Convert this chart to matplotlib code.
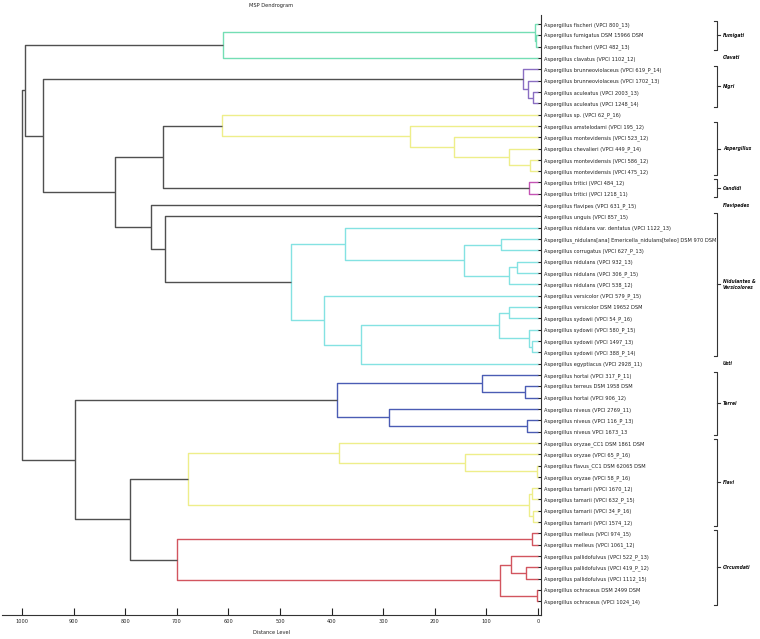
import matplotlib
matplotlib.use('Agg')
import matplotlib.pyplot as plt
import matplotlib.transforms as mtransforms
from matplotlib import font_manager as fm

## leaf labels, top to bottom
leaf_labels = [
    'Aspergillus fischeri (VPCI 800_13)',
    'Aspergillus fumigatus DSM 15966 DSM',
    'Aspergillus fischeri (VPCI 482_13)',
    'Aspergillus clavatus (VPCI 1102_12)',
    'Aspergillus brunneoviolaceus (VPCI 619_P_14)',
    'Aspergillus brunneoviolaceus (VPCI 1702_13)',
    'Aspergillus aculeatus (VPCI 2003_13)',
    'Aspergillus aculeatus (VPCI 1248_14)',
    'Aspergillus sp. (VPCI 62_P_16)',
    'Aspergillus amstelodami (VPCI 195_12)',
    'Aspergillus montevidensis (VPCI 523_12)',
    'Aspergillus chevalieri (VPCI 449_P_14)',
    'Aspergillus montevidensis (VPCI 586_12)',
    'Aspergillus montevidensis (VPCI 475_12)',
    'Aspergillus tritici (VPCI 484_12)',
    'Aspergillus tritici (VPCI 1218_11)',
    'Aspergillus flavipes (VPCI 631_P_15)',
    'Aspergillus unguis (VPCI 857_15)',
    'Aspergillus nidulans var. dentatus (VPCI 1122_13)',
    'Aspergillus_nidulans[ana] Emericella_nidulans[teleo] DSM 970 DSM',
    'Aspergillus corrugatus (VPCI 627_P_13)',
    'Aspergillus nidulans (VPCI 932_13)',
    'Aspergillus nidulans (VPCI 306_P_15)',
    'Aspergillus nidulans (VPCI 538_12)',
    'Aspergillus versicolor (VPCI 579_P_15)',
    'Aspergillus versicolor DSM 19652 DSM',
    'Aspergillus sydowii (VPCI 54_P_16)',
    'Aspergillus sydowii (VPCI 580_P_15)',
    'Aspergillus sydowii (VPCI 1497_13)',
    'Aspergillus sydowii (VPCI 388_P_14)',
    'Aspergillus egyptiacus (VPCI 2928_11)',
    'Aspergillus hortai (VPCI 317_P_11)',
    'Aspergillus terreus DSM 1958 DSM',
    'Aspergillus hortai (VPCI 906_12)',
    'Aspergillus niveus (VPCI 2769_11)',
    'Aspergillus niveus (VPCI 116_P_13)',
    'Aspergillus niveus VPCI 1673_13',
    'Aspergillus oryzae_CC1 DSM 1861 DSM',
    'Aspergillus oryzae (VPCI 65_P_16)',
    'Aspergillus flavus_CC1 DSM 62065 DSM',
    'Aspergillus oryzae (VPCI 58_P_16)',
    'Aspergillus tamarii (VPCI 1670_12)',
    'Aspergillus tamarii (VPCI 632_P_15)',
    'Aspergillus tamarii (VPCI 34_P_16)',
    'Aspergillus tamarii (VPCI 1574_12)',
    'Aspergillus melleus (VPCI 974_15)',
    'Aspergillus melleus (VPCI 1061_12)',
    'Aspergillus pallidofulvus (VPCI 522_P_13)',
    'Aspergillus pallidofulvus (VPCI 419_P_12)',
    'Aspergillus pallidofulvus (VPCI 1112_15)',
    'Aspergillus ochraceus DSM 2499 DSM',
    'Aspergillus ochraceus (VPCI 1024_14)',
]

## linkage: (child a, child b, distance level, colour key)
## leaves are 0..51, merge k gets id 52+k
merges = [
    (1, 2, 3, 'fum'), (0, 52, 6, 'fum'), (53, 3, 610, 'fum'),
    (6, 7, 10, 'nig'), (5, 55, 20, 'nig'), (4, 56, 30, 'nig'),
    (12, 13, 15, 'asp'), (11, 58, 56, 'asp'), (10, 59, 163, 'asp'),
    (9, 60, 249, 'asp'), (8, 61, 612, 'asp'),
    (14, 15, 17, 'can'),
    (62, 63, 726, 'top'),
    (19, 20, 71, 'nid'), (21, 22, 40, 'nid'), (66, 23, 57, 'nid'),
    (65, 67, 143, 'nid'), (18, 68, 375, 'nid'),
    (28, 29, 12, 'nid'), (27, 70, 18, 'nid'), (25, 26, 56, 'nid'),
    (72, 71, 76, 'nid'), (73, 30, 344, 'nid'), (24, 74, 414, 'nid'),
    (69, 75, 479, 'nid'),
    (17, 76, 724, 'top'), (16, 77, 750, 'top'), (64, 78, 820, 'top'),
    (57, 79, 960, 'top'), (54, 80, 995, 'top'),
    (32, 33, 25, 'ter'), (31, 82, 108, 'ter'), (35, 36, 21, 'ter'),
    (34, 84, 288, 'ter'), (83, 85, 389, 'ter'),
    (39, 40, 2, 'fla'), (38, 87, 141, 'fla'), (37, 88, 385, 'fla'),
    (41, 42, 12, 'fla'), (43, 44, 10, 'fla'), (90, 91, 17, 'fla'),
    (89, 92, 678, 'fla'),
    (45, 46, 12, 'cir'), (48, 49, 24, 'cir'), (47, 95, 53, 'cir'),
    (50, 51, 2, 'cir'), (96, 97, 73, 'cir'), (94, 98, 699, 'cir'),
    (93, 99, 791, 'top'), (86, 100, 897, 'top'), (81, 101, 1000, 'top'),
]

cluster_colors = {
    'fum': '#74DEB4', 'nig': '#8A6EC2', 'asp': '#EEEE8A', 'can': '#C454B4',
    'nid': '#84E2E2', 'ter': '#4B5CB4', 'fla': '#EEEE8A', 'cir': '#D2555F',
    'top': '#505050',
}

## section groups: name, first leaf, last leaf, bracket drawn
group_names = ['Fumigati', 'Clavati', 'Nigri', 'Aspergillus', 'Candidi',
               'Flavipedes', 'Nidulantes &\nVersicolores', 'Usti', 'Terrei',
               'Flavi', 'Circumdati']
group_first = [0, 3, 4, 9, 14, 16, 17, 30, 31, 37, 45]
group_last = [2, 3, 7, 13, 15, 16, 29, 30, 36, 44, 51]
group_bracket = [True, False, True, True, True, False, True, False, True,
                 True, True]

distance_ticks = [0, 100, 200, 300, 400, 500, 600, 700, 800, 900, 1000]


## look for a narrow face, the original uses a condensed font
def pick_font(bold=False, italic=False):
    style = 'italic' if italic else 'normal'
    found = []
    for f in fm.fontManager.ttflist:
        fn = f.fname.lower()
        narrow = ('narrow' in fn or 'condensed' in fn or
                  str(f.stretch).endswith('condensed'))
        if not narrow or f.style not in ([style, 'oblique'] if italic else [style]):
            continue
        w = f.weight if isinstance(f.weight, int) else fm.weight_dict.get(f.weight, 400)
        if bold and not (600 <= w <= 750):
            continue
        if not bold and not (350 <= w <= 500):
            continue
        if 'liberation' in fn:
            rank = 0
        elif 'dejavu' in fn:
            rank = 1
        elif 'extra' in fn or 'semi' in fn or 'ultra' in fn:
            rank = 3
        else:
            rank = 2
        found.append((rank, f.fname))
    if found:
        found.sort()
        return fm.FontProperties(fname=found[0][1])
    return fm.FontProperties(family='Liberation Sans',
                             weight='bold' if bold else 'normal', style=style)


fig = plt.figure(figsize=(7.6, 6.39), dpi=100)
ax = fig.add_axes([2/760, 24.5/639, 539/760, 599.8/639])
renderer = fig.canvas.get_renderer()


## scale a font so that a text spans the width seen in the original
def fit(fp, text, target_px):
    p = fp.copy()
    p.set_size(10)
    t = fig.text(0, 0, text, fontproperties=p)
    w = t.get_window_extent(renderer).width
    t.remove()
    p.set_size(min(10*target_px/w, 7))
    return p


fp_reg = pick_font()
fp_bi = pick_font(bold=True, italic=True)
fp_leaf = fit(fp_reg, leaf_labels[19], 171)
fp_tick = fit(fp_reg, '1000', 13)
fp_xlab = fit(fp_reg, 'Distance Level', 37)
fp_title = fit(fp_reg, 'MSP Dendrogram', 44)
fp_group = fit(fp_bi, 'Nidulantes &', 33)

n = len(leaf_labels)
ypos = [float(i) for i in range(n)]
hgt = [0.0]*n
for a, b, h, c in merges:
    ax.plot([hgt[a], h, h, hgt[b]], [ypos[a], ypos[a], ypos[b], ypos[b]],
            color=cluster_colors[c], lw=1.0, solid_capstyle='butt')
    ypos.append((ypos[a] + ypos[b])/2)
    hgt.append(h)

ax.set_xlim(1039, -5.8)
ax.set_ylim(52.16, -0.82)
for s in ['top', 'left']:
    ax.spines[s].set_visible(False)
for s in ['right', 'bottom']:
    ax.spines[s].set_color('#333333')
    ax.spines[s].set_linewidth(0.8)

ax.set_xticks(distance_ticks)
ax.set_xticklabels([str(v) for v in distance_ticks], fontproperties=fp_tick)
ax.tick_params(axis='x', direction='in', length=5, width=0.8, pad=3,
               colors='#222222')
ax.yaxis.tick_right()
ax.set_yticks(range(n))
ax.set_yticklabels(leaf_labels, fontproperties=fp_leaf)
ax.tick_params(axis='y', direction='in', length=3, width=0.8, pad=2,
               colors='#222222')
fig.text(271.5/760, 6/639, 'Distance Level', ha='center', va='center',
         fontproperties=fp_xlab, color='#222222')
fig.text(271.5/760, 1 - 6/639, 'MSP Dendrogram', ha='center', va='center',
         fontproperties=fp_title, color='#222222')

## section brackets and names on the right
trans = mtransforms.blended_transform_factory(fig.transFigure, ax.transData)
bx = 717/760
dx = 3/760
for name, f, l, br in zip(group_names, group_first, group_last, group_bracket):
    ym = (f + l)/2
    if br:
        y0, y1 = f - 0.3, l + 0.3
        ax.plot([bx - dx, bx, bx, bx - dx], [y0, y0, y1, y1], transform=trans,
                clip_on=False, color='#333333', lw=0.8)
        ax.plot([bx, bx + dx], [ym, ym], transform=trans, clip_on=False,
                color='#333333', lw=0.8)
    ax.text(723/760, ym, name, transform=trans, ha='left', va='center',
            fontproperties=fp_group, color='#111111', linespacing=1.3)

fig.savefig('out.png', dpi=100)
